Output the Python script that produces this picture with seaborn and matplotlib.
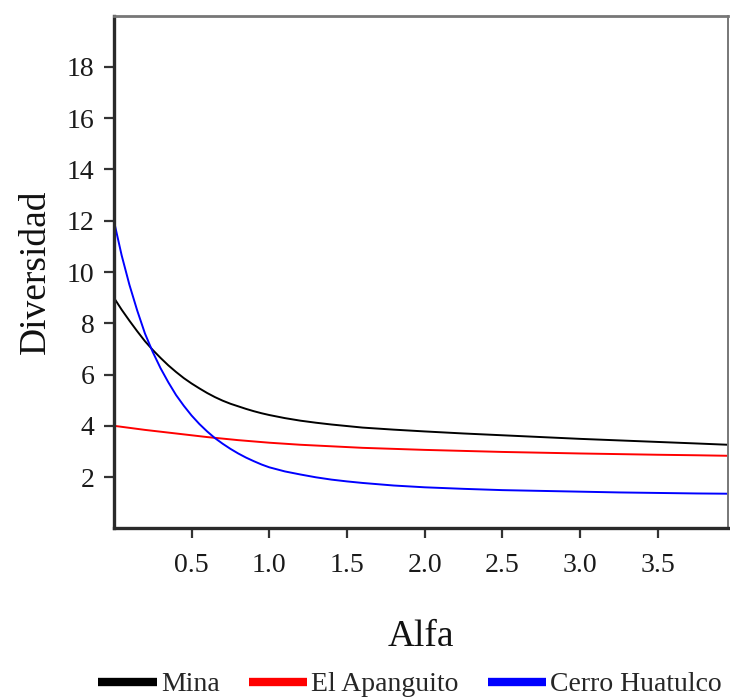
import numpy as np
import pandas as pd
import matplotlib
matplotlib.use("Agg")
import matplotlib.pyplot as plt
import seaborn as sns

# Diversity profile (Hill numbers) for three sites, alpha from 0 to ~3.95
alfa = [0.00, 0.05, 0.10, 0.15, 0.20, 0.25, 0.30, 0.35, 0.40, 0.45, 0.50,
        0.55, 0.60, 0.65, 0.70, 0.75, 0.80, 0.85, 0.90, 0.95, 1.00,
        1.10, 1.20, 1.30, 1.40, 1.50, 1.60, 1.80, 2.00,
        2.25, 2.50, 2.75, 3.00, 3.25, 3.50, 3.75, 3.95]
mina = [9.00, 8.53, 8.10, 7.69, 7.30, 6.96, 6.65, 6.36, 6.10, 5.86, 5.65,
        5.46, 5.28, 5.12, 4.98, 4.86, 4.76, 4.66, 4.57, 4.49, 4.42,
        4.30, 4.20, 4.12, 4.05, 3.99, 3.93, 3.85, 3.78,
        3.70, 3.63, 3.56, 3.49, 3.43, 3.37, 3.31, 3.26]
el_apanguito = [4.00, 3.96, 3.92, 3.88, 3.84, 3.805, 3.77, 3.735, 3.70, 3.665, 3.63,
                3.595, 3.56, 3.53, 3.50, 3.47, 3.44, 3.415, 3.39, 3.365, 3.34,
                3.30, 3.26, 3.23, 3.20, 3.17, 3.14, 3.10, 3.06,
                3.02, 2.98, 2.95, 2.92, 2.895, 2.87, 2.85, 2.83]
cerro_huatulco = [12.00, 10.65, 9.50, 8.50, 7.60, 6.88, 6.25, 5.70, 5.20, 4.78, 4.40,
                  4.07, 3.78, 3.52, 3.30, 3.10, 2.92, 2.76, 2.62, 2.49, 2.38,
                  2.22, 2.10, 1.99, 1.90, 1.83, 1.77, 1.67, 1.60,
                  1.54, 1.49, 1.46, 1.43, 1.40, 1.38, 1.36, 1.35]
sitios = ["Mina", "El Apanguito", "Cerro Huatulco"]
colores = ["black", "red", "blue"]
xticks = [0.5, 1.0, 1.5, 2.0, 2.5, 3.0, 3.5]
yticks = [2, 4, 6, 8, 10, 12, 14, 16, 18]

df = pd.concat([
    pd.DataFrame({"Alfa": alfa, "Diversidad": vals, "Sitio": name})
    for name, vals in zip(sitios, [mina, el_apanguito, cerro_huatulco])
], ignore_index=True)

sns.set_style("ticks")
plt.rcParams["font.family"] = ["Liberation Serif", "DejaVu Serif"]

fig = plt.figure(figsize=(7.30, 6.98), dpi=100)
ax = fig.add_axes([0.156, 0.2431, 0.841, 0.7344])

sns.lineplot(data=df, x="Alfa", y="Diversidad", hue="Sitio",
             hue_order=sitios, palette=colores, linewidth=1.4,
             legend=False, ax=ax)

ax.set_xlim(0, 3.95)
ax.set_ylim(0, 20)
ax.set_xticks(xticks)
ax.set_xticklabels([f"{t:.1f}" for t in xticks])
ax.set_yticks(yticks)
ax.tick_params(axis="both", direction="out", length=7, width=1.6,
               colors="#333333", labelcolor="#1a1a1a", labelsize=20)
ax.tick_params(axis="y", pad=7)
ax.tick_params(axis="x", pad=11)

for side in ["left", "bottom"]:
    ax.spines[side].set_linewidth(2.4)
    ax.spines[side].set_color("#2a2a2a")
ax.spines["top"].set_linewidth(2.0)
ax.spines["top"].set_color("#777777")
ax.spines["right"].set_linewidth(1.4)
ax.spines["right"].set_color("#777777")
ax.spines["top"].set_visible(True)
ax.spines["right"].set_visible(True)

ax.set_xlabel("Alfa", fontsize=27, labelpad=30, color="#111111")
ax.set_ylabel("Diversidad", fontsize=27, labelpad=10, color="#111111")

handles = [plt.Line2D([], [], color=c, linewidth=6, solid_capstyle="butt")
           for c in colores]
fig.legend(handles, sitios, loc="lower center", bbox_to_anchor=(0.562, -0.035),
           ncol=3, frameon=False, fontsize=20, handlelength=2.1,
           handletextpad=0.15, columnspacing=1.05)

fig.savefig("out.png", dpi=100)
